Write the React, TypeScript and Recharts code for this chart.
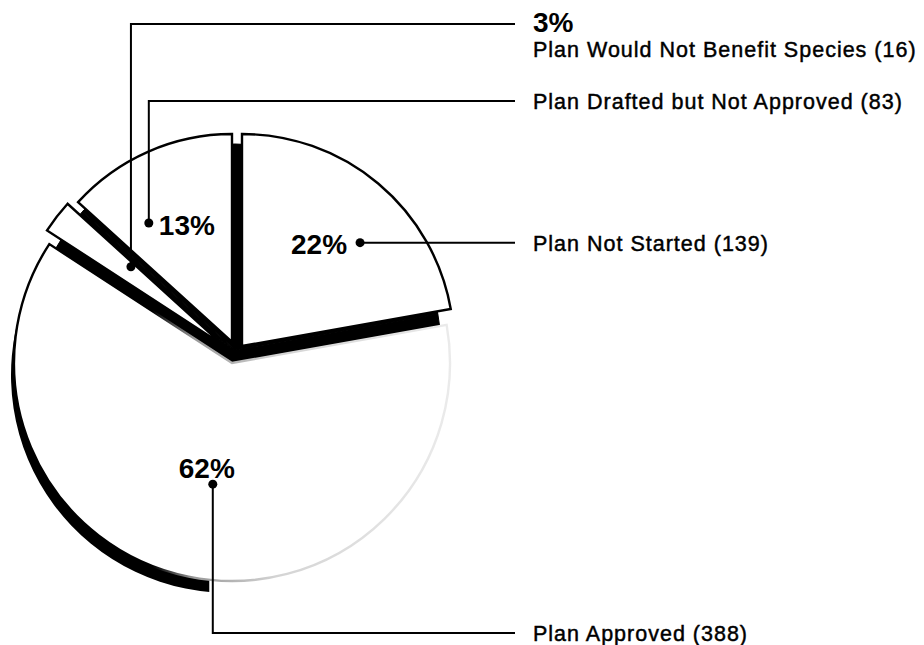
import React from 'react';
import { PieChart, Pie, Cell } from 'recharts';

// ---- data ----
const categories = [
  'Plan Not Started',
  'Plan Approved',
  'Plan Would Not Benefit Species',
  'Plan Drafted but Not Approved',
];
const counts = [139, 388, 16, 83];

const data = categories.map((name, i) => ({ name, value: counts[i] }));

// ---- layout (not data) ----
const W = 924;
const H = 645;
const CX = 235;
const CY = 350;
const BASE_R = 206;
const START = 90;
const END = -270;
const faceRadius = [212, 218, 210, 208];
const explodeDX = [7, -3, -12, -3];
const explodeDY = [-4, 13, -5, -8];
const SHADOW_DX = -3;
const SHADOW_DY = 12;
const COL_LINE_X = 515;
const COL_TEXT_X = 533;
const dotAngleShift = [-9.4, 2.1, -1, 10.3];
const dotRadiusFrac = [0.8, 0.66, 0.647, 0.745];
const labelLineY = [245, 633, 24, 101];
const FONT = '"Liberation Sans", Arial, Helvetica, sans-serif';

const renderLabel = (props: any) => {
  const { index, midAngle, percent } = props;
  const RAD = Math.PI / 180;
  const cx = typeof props.cx === 'number' ? props.cx : CX;
  const cy = typeof props.cy === 'number' ? props.cy : CY;
  const a = (midAngle + dotAngleShift[index]) * RAD;
  const r = BASE_R * dotRadiusFrac[index];
  const x = cx + r * Math.cos(a);
  const y = cy - r * Math.sin(a);
  const pct = `${Math.round(percent * 100)}%`;
  const ly = labelLineY[index];
  const path = index === 0 ? `M${x},${y} H${COL_LINE_X}` : `M${x},${y} V${ly} H${COL_LINE_X}`;
  const textY = index === 0 ? y : ly;

  const pctProps = { fontSize: 28, fontWeight: 'bold', fontFamily: FONT, fill: '#000' } as any;
  let pctEl: React.ReactNode = null;
  let nameY = textY + 8;
  if (index === 0) {
    pctEl = <text x={x - 13} y={y + 11} textAnchor="end" {...pctProps}>{pct}</text>;
  } else if (index === 1) {
    pctEl = <text x={x - 6} y={y - 6} textAnchor="middle" {...pctProps}>{pct}</text>;
  } else if (index === 3) {
    pctEl = <text x={x + 10} y={y + 12} textAnchor="start" {...pctProps}>{pct}</text>;
  } else {
    pctEl = <text x={COL_TEXT_X} y={ly + 8} textAnchor="start" {...pctProps}>{pct}</text>;
    nameY = ly + 33;
  }

  return (
    <g key={`lbl-${index}`}>
      <path d={path} stroke="#000" strokeWidth={2} fill="none" />
      <circle cx={x} cy={y} r={4.5} fill="#000" />
      {pctEl}
      <text
        x={COL_TEXT_X}
        y={nameY}
        textAnchor="start"
        fontSize={21.5}
        letterSpacing={1}
        fontFamily={FONT}
        fill="#000"
        stroke="#000"
        strokeWidth={0.45}
      >
        {`${categories[index]} (${counts[index]})`}
      </text>
    </g>
  );
};

export default function App() {
  return (
    <div style={{ position: 'absolute', left: 0, top: 0, width: W, height: H, background: '#fff' }}>
      <PieChart width={W} height={H} margin={{ top: 0, right: 0, bottom: 0, left: 0 }}>
        <defs>
          <linearGradient id="approvedStroke" gradientUnits="userSpaceOnUse" x1={0} y1={0} x2={W} y2={0}>
            <stop offset="0%" stopColor="#000" />
            <stop offset="16.5%" stopColor="#000" />
            <stop offset="21%" stopColor="#999" />
            <stop offset="30%" stopColor="#d4d4d4" />
            <stop offset="50%" stopColor="#ececec" />
            <stop offset="100%" stopColor="#f2f2f2" />
          </linearGradient>
          <linearGradient id="approvedShadow" gradientUnits="userSpaceOnUse" x1={0} y1={0} x2={W} y2={0}>
            <stop offset="0%" stopColor="#000" stopOpacity={1} />
            <stop offset="22.6%" stopColor="#000" stopOpacity={1} />
            <stop offset="22.7%" stopColor="#000" stopOpacity={0} />
            <stop offset="100%" stopColor="#000" stopOpacity={0} />
          </linearGradient>
        </defs>

        {/* depth shadow of the large slice */}
        <Pie
          data={data}
          dataKey="value"
          nameKey="name"
          cx={CX + explodeDX[1] + SHADOW_DX}
          cy={CY + explodeDY[1] + SHADOW_DY}
          outerRadius={faceRadius[1]}
          startAngle={START}
          endAngle={END}
          isAnimationActive={false}
          stroke="none"
        >
          {data.map((d, i) => (
            <Cell key={`s-${i}`} fill={i === 1 ? 'url(#approvedShadow)' : 'none'} stroke="none" />
          ))}
        </Pie>

        {/* black base under exploded slices */}
        <Pie
          data={data}
          dataKey="value"
          nameKey="name"
          cx={CX}
          cy={CY}
          outerRadius={BASE_R}
          startAngle={START}
          endAngle={END}
          isAnimationActive={false}
          stroke="none"
        >
          {data.map((d, i) => (
            <Cell key={`b-${i}`} fill="#000" stroke="#000" strokeWidth={1} />
          ))}
        </Pie>

        {/* exploded slice faces */}
        {data.map((_, k) => (
          <Pie
            key={`face-${k}`}
            data={data}
            dataKey="value"
            nameKey="name"
            cx={CX + explodeDX[k]}
            cy={CY + explodeDY[k]}
            outerRadius={faceRadius[k]}
            startAngle={START}
            endAngle={END}
            isAnimationActive={false}
            stroke="none"
          >
            {data.map((d, i) => (
              <Cell
                key={`f-${k}-${i}`}
                fill={i === k ? '#fff' : 'none'}
                stroke={i === k ? (k === 1 ? 'url(#approvedStroke)' : '#000') : 'none'}
                strokeWidth={i === k ? 2.4 : 0}
              />
            ))}
          </Pie>
        ))}

        {/* labels and leader lines */}
        <Pie
          data={data}
          dataKey="value"
          nameKey="name"
          cx={CX}
          cy={CY}
          outerRadius={BASE_R}
          startAngle={START}
          endAngle={END}
          isAnimationActive={false}
          stroke="none"
          label={renderLabel}
          labelLine={false}
        >
          {data.map((d, i) => (
            <Cell key={`l-${i}`} fill="none" stroke="none" />
          ))}
        </Pie>
      </PieChart>
    </div>
  );
}
